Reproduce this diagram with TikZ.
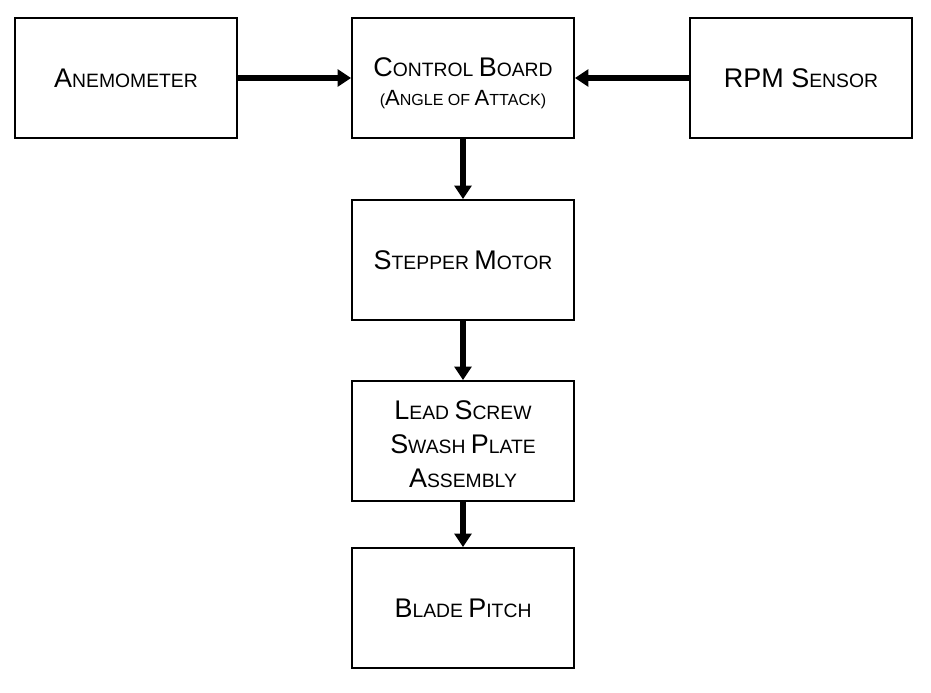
\documentclass[tikz,border=0pt]{standalone}
\usepackage{fontspec}
\setmainfont{Liberation Sans}
\usetikzlibrary{arrows.meta, positioning}

% fake small caps: big initial, smaller capitals for the rest
\newcommand{\capl}[1]{{\fontsize{23}{29}\selectfont #1}}
\newcommand{\capm}[1]{{\fontsize{18.8}{20}\selectfont #1}}

\begin{document}
\begin{tikzpicture}[
  blockbox/.style={draw, line width=1.6pt, minimum width=6.66cm, minimum height=3.6cm, align=center, inner sep=0pt, font=\fontsize{16.5}{29}\selectfont},
  flow/.style={line width=5pt, -{Triangle[length=0.4cm, width=0.5cm]}}
]
  \useasboundingbox (0,0) rectangle (27.93,-20.79);
  \node[blockbox] (anemo) at (3.78, -2.34) {\capl{A}NEMOMETER};
  \node[blockbox] (board) at (13.89, -2.34) {\rule{0pt}{25pt}\capl{C}ONTROL \capl{B}OARD\\[-5pt]{\fontsize{13.7}{14}\selectfont (\capm{A}NGLE OF \capm{A}TTACK)}};
  \node[blockbox] (rpm) at (24.03, -2.34) {\capl{RPM S}ENSOR};
  \node[blockbox] (stepper) at (13.89, -7.80) {\capl{S}TEPPER \capl{M}OTOR};
  \node[blockbox] (lead) at (13.89, -13.23) {\rule{0pt}{22pt}\capl{L}EAD \capl{S}CREW\\\capl{S}WASH \capl{P}LATE\\\capl{A}SSEMBLY};
  \node[blockbox] (blade) at (13.89, -18.24) {\capl{B}LADE \capl{P}ITCH};

  \draw[flow] (anemo) -- (board);
  \draw[flow] (rpm) -- (board);
  \draw[flow] (board) -- (stepper);
  \draw[flow] (stepper) -- (lead);
  \draw[flow] (lead) -- (blade);
\end{tikzpicture}
\end{document}
